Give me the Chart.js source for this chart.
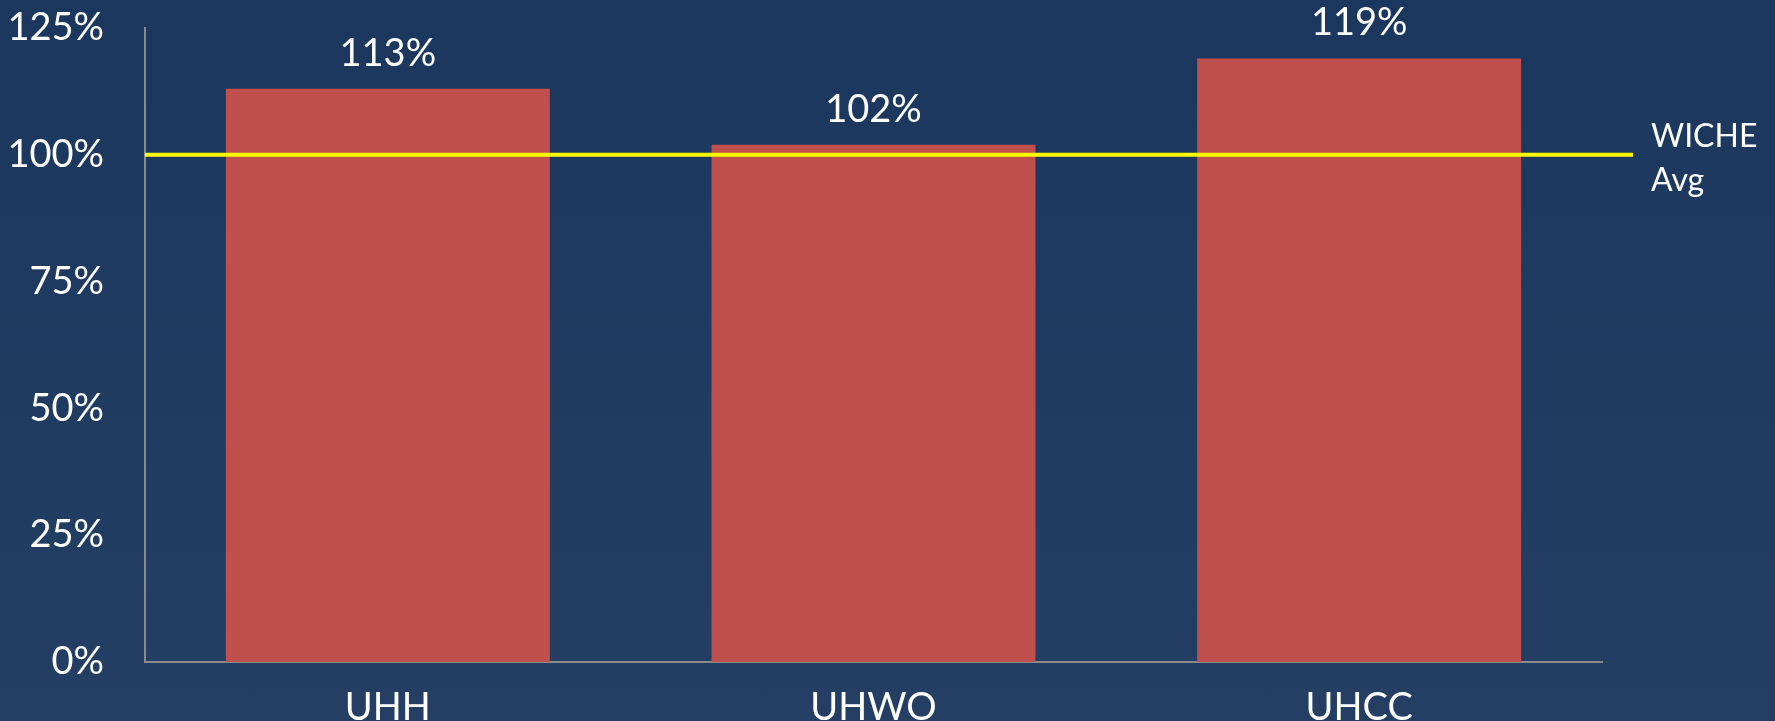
<!DOCTYPE html>
<html>
<head>
<meta charset="utf-8">
<script src="https://cdn.jsdelivr.net/npm/chart.js@4"></script>
<style>
  html, body { margin: 0; padding: 0; }
  body {
    width: 1775px; height: 721px; overflow: hidden;
    background: linear-gradient(to bottom, #1b375e 0%, #243f63 100%);
  }
  #wrap { width: 1775px; height: 721px; }
</style>
</head>
<body>
<div id="wrap"><canvas id="rateChart"></canvas></div>
<script>
const campuses = ['UHH', 'UHWO', 'UHCC'];
const pctOfWiche = [113, 102, 119];
const wicheAvg = 100;
const wicheLabel = ['WICHE', 'Avg'];
const yTicks = [0, 25, 50, 75, 100, 125];

const fontFamily = 'Lato, "Open Sans", sans-serif';

// yellow reference line + its label on the right
const avgLine = {
    id: 'avgLine',
    afterDatasetsDraw(chart) {
        const { ctx, chartArea, scales } = chart;
        const y = scales.y.getPixelForValue(wicheAvg);
        ctx.save();
        ctx.strokeStyle = '#ffff00';
        ctx.lineWidth = 4;
        ctx.beginPath();
        ctx.moveTo(chartArea.left, y);
        ctx.lineTo(chartArea.right + 31, y);
        ctx.stroke();
        ctx.fillStyle = '#ffffff';
        ctx.font = '32px ' + fontFamily;
        ctx.textAlign = 'left';
        ctx.textBaseline = 'alphabetic';
        ctx.fillText(wicheLabel[0], chartArea.right + 49, y - 8);
        ctx.fillText(wicheLabel[1], chartArea.right + 49, y + 36);
        ctx.restore();
    }
};

// value labels above bars
const barLabels = {
    id: 'barLabels',
    afterDatasetsDraw(chart) {
        const { ctx } = chart;
        const meta = chart.getDatasetMeta(0);
        ctx.save();
        ctx.fillStyle = '#ffffff';
        ctx.font = '38px ' + fontFamily;
        ctx.textAlign = 'center';
        ctx.textBaseline = 'alphabetic';
        meta.data.forEach((bar, i) => {
            ctx.fillText(pctOfWiche[i] + '%', bar.x, bar.y - 23);
        });
        ctx.restore();
    }
};

new Chart(document.getElementById('rateChart'), {
    type: 'bar',
    data: {
        labels: campuses,
        datasets: [{
            data: pctOfWiche,
            backgroundColor: '#c0504d',
            borderWidth: 0,
            categoryPercentage: 1,
            barPercentage: 0.667
        }]
    },
    options: {
        responsive: true,
        maintainAspectRatio: false,
        animation: false,
        layout: { padding: { top: 28, right: 173, left: 0, bottom: 0 } },
        plugins: { legend: { display: false }, tooltip: { enabled: false } },
        scales: {
            x: {
                grid: { display: false, drawTicks: false },
                border: { display: true, color: '#8a8a8a', width: 2 },
                ticks: {
                    color: '#ffffff',
                    padding: 23,
                    font: { family: fontFamily, size: 38 }
                },
                afterFit(scale) {
                    scale.height = 59;
                    scale.paddingLeft = 0;
                    scale.paddingRight = 0;
                }
            },
            y: {
                min: 0,
                max: 125,
                grid: { display: false, drawTicks: false },
                border: { display: true, color: '#8a8a8a', width: 2 },
                afterBuildTicks(scale) {
                    scale.ticks = yTicks.map(v => ({ value: v }));
                },
                ticks: {
                    color: '#ffffff',
                    padding: 41,
                    font: { family: fontFamily, size: 38 },
                    callback: v => v + '%'
                },
                afterFit(scale) {
                    scale.width = 145;
                    scale.paddingTop = 0;
                    scale.paddingBottom = 0;
                }
            }
        }
    },
    plugins: [avgLine, barLabels]
});
</script>
</body>
</html>
